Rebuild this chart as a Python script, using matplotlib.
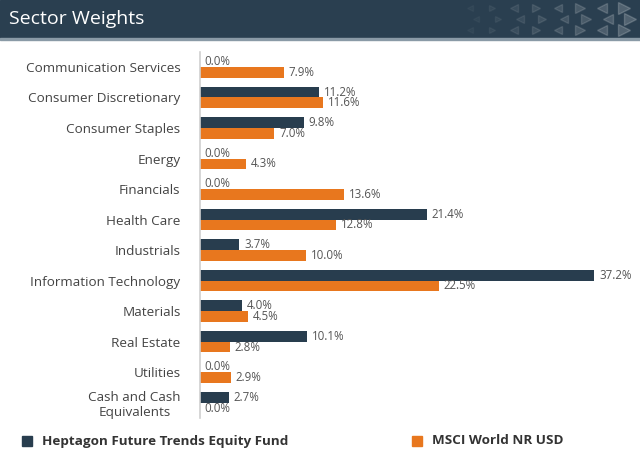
import matplotlib.pyplot as plt
from matplotlib.patches import Rectangle
import numpy as np

plt.rcParams['font.family'] = ['Open Sans', 'DejaVu Sans']

sectors = ['Communication Services', 'Consumer Discretionary', 'Consumer Staples',
           'Energy', 'Financials', 'Health Care', 'Industrials',
           'Information Technology', 'Materials', 'Real Estate', 'Utilities',
           'Cash and Cash\nEquivalents']
fund = [0.0, 11.2, 9.8, 0.0, 0.0, 21.4, 3.7, 37.2, 4.0, 10.1, 0.0, 2.7]
msci = [7.9, 11.6, 7.0, 4.3, 13.6, 12.8, 10.0, 22.5, 4.5, 2.8, 2.9, 0.0]
series_names = ['Heptagon Future Trends Equity Fund', 'MSCI World NR USD']

navy = '#283d4e'
orange = '#e8771e'
header = '#2a3f50'
txt = '#444444'
vtxt = '#555555'

W, H = 640, 457
fig = plt.figure(figsize=(W / 100, H / 100), dpi=100)

# header band
fig.patches.append(Rectangle((0, 1 - 38 / H), 1, 38 / H, transform=fig.transFigure,
                             color=header, zorder=0))
fig.patches.append(Rectangle((0, 1 - 40 / H), 1, 2 / H, transform=fig.transFigure,
                             color='#8a9aa6', zorder=0))
fig.text(9 / W, 1 - 19 / H, 'Sector Weights', color='white', fontsize=14,
         va='center', ha='left')

# faint triangle decoration in header
for row, yy in enumerate([8, 19, 30]):
    for k, xx in enumerate(range(470, 640, 22)):
        a = 0.03 + 0.022 * k
        m = '<' if k % 2 == 0 else '>'
        fig.lines.append(plt.Line2D([(xx + (row % 2) * 6) / W], [1 - yy / H], marker=m,
                                    markersize=4 + k * 0.6, color='white', alpha=min(a, 0.2),
                                    transform=fig.transFigure, linestyle='none'))

ax = fig.add_axes([200 / W, 1 - 418 / H, 430 / W, (418 - 51.7) / H])
y = np.arange(len(sectors))
h = 0.35
ax.barh(y - h / 2, fund, height=h, color=navy)
ax.barh(y + h / 2, msci, height=h, color=orange)

for i in range(len(sectors)):
    ax.annotate(f'{fund[i]:.1f}%', (fund[i], y[i] - h / 2), xytext=(3.5, 0),
                textcoords='offset points', va='center', ha='left', fontsize=8.3, color=vtxt)
    ax.annotate(f'{msci[i]:.1f}%', (msci[i], y[i] + h / 2), xytext=(3.5, 0),
                textcoords='offset points', va='center', ha='left', fontsize=8.3, color=vtxt)

ax.set_xlim(0, 430 / 10.6)
ax.set_ylim(len(sectors) - 0.5, -0.5)
ax.set_yticks(y)
ax.set_yticklabels(sectors, fontsize=9.7, color=txt, multialignment='center')
ax.tick_params(axis='y', length=0, pad=14)
ax.set_xticks([])
for s in ['top', 'right', 'bottom']:
    ax.spines[s].set_visible(False)
ax.spines['left'].set_color('#d0d0d0')
ax.spines['left'].set_linewidth(1.2)

# legend
for (sx, tx), col, name in zip([(22, 42), (412, 432)], [navy, orange], series_names):
    fig.patches.append(Rectangle((sx / W, 1 - 446 / H), 10 / W, 10 / H,
                                 transform=fig.transFigure, color=col))
    fig.text(tx / W, 1 - 441 / H, name, fontsize=9.7, fontweight='bold', color='#333333',
             va='center', ha='left')

fig.savefig('out.png', dpi=100)
